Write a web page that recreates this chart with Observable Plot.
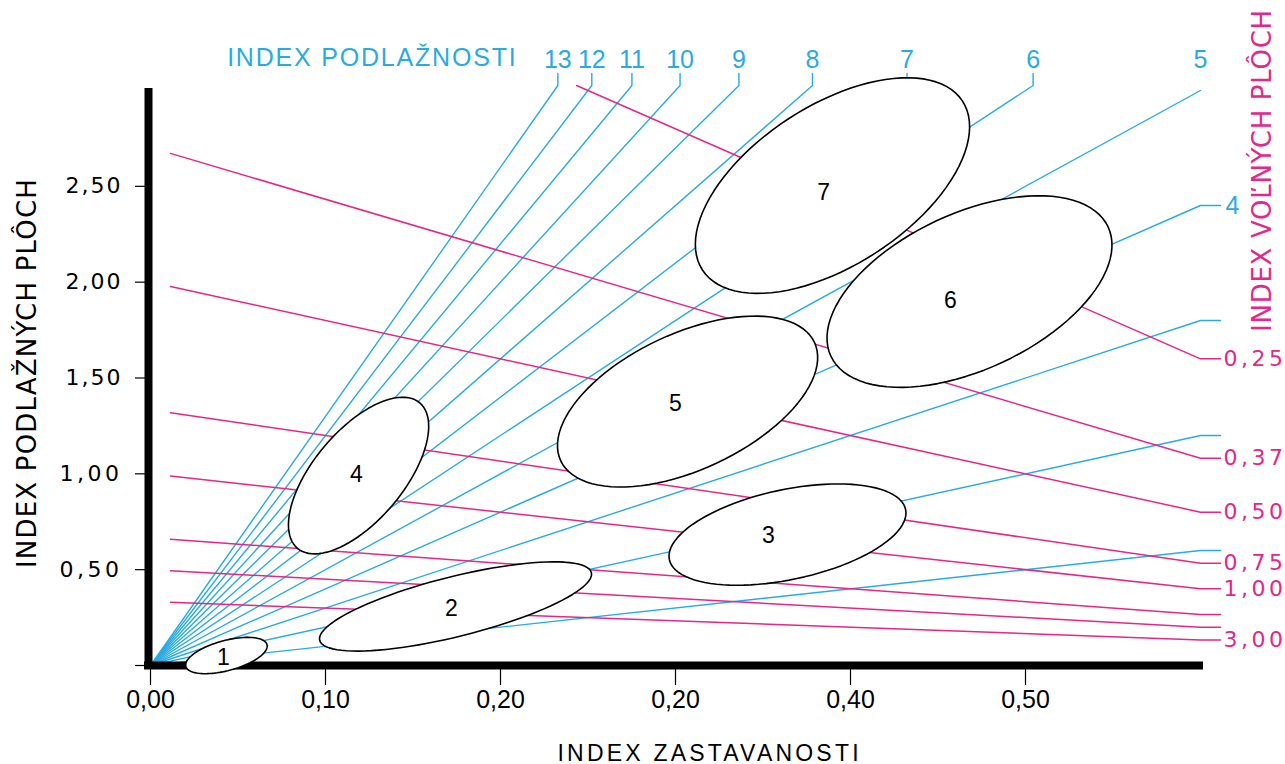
<!DOCTYPE html>
<html><head><meta charset="utf-8">
<script src="https://cdn.jsdelivr.net/npm/d3@7"></script>
<script src="https://cdn.jsdelivr.net/npm/@observablehq/plot@0.6"></script>
<style>body{margin:0;background:#fff}</style>
</head><body><div id="chart"></div>
<script>
// ---- data ----
const xTickValues = [0, 0.1, 0.2, 0.3, 0.4, 0.5];
const xTickLabels = ["0,00", "0,10", "0,20", "0,20", "0,40", "0,50"];
const yTickValues = [0, 0.5, 1, 1.5, 2, 2.5];
const yTickLabels = ["", "0,50", "1,00", "1,50", "2,00", "2,50"];
const podlaznost = [1, 2, 3, 4, 5, 6, 7, 8, 9, 10, 11, 12, 13];
const podlaznostLabels = ["", "", "", "4", "5", "6", "7", "8", "9", "10", "11", "12", "13"];
const volnePlochy = [0.25, 0.37, 0.5, 0.75, 1, 1.5, 2, 3];
const volnePlochyLabels = ["0,25", "0,37", "0,50", "0,75", "1,00", "", "", "3,00"];
const typId = ["1", "2", "3", "4", "5", "6", "7"];
const typGsi = [0.0434, 0.1743, 0.364, 0.1189, 0.3069, 0.468, 0.3897];
const typFsi = [0.052, 0.308, 0.683, 0.991, 1.377, 1.951, 2.504];
const typA = [0.024, 0.080, 0.069, 0.0543, 0.080, 0.0874, 0.0886];
const typB = [0.0086, 0.0171, 0.0257, 0.0257, 0.0389, 0.0446, 0.0457];
const typUhol = [15, 14, 12, 50, 25, 25, 33];
const typLabelGsi = [0.0417, 0.172, 0.3531, 0.1177, 0.30, 0.4571, 0.3846];
const typLabelFsi = [0.042, 0.297, 0.678, 0.9965, 1.367, 1.904, 2.468];

// ---- layout ----
const W = 1285, H = 764, ML = 150, MR = 85, MT = 90, MB = 99;
const X_MAX = 0.6, Y_MAX = 3;
const kx = (W - ML - MR) / X_MAX, ky = (H - MT - MB) / Y_MAX;
const BLUE = "#29abe2", MAGENTA = "#e2288a";
const yTop = Y_MAX + 5 / ky, lead = 12 / ky, tick = 20 / kx, xStart = 20 / kx;

// blue lines (index podlažnosti): y = L * x
const blue = [], blueTop = [], blueRight = [];
podlaznost.forEach((L, i) => {
  const pts = [[0, 0]];
  if (yTop / L < X_MAX) {
    pts.push([yTop / L, yTop], [yTop / L, yTop + lead]);
    blueTop.push({x: yTop / L, y: yTop + lead, t: podlaznostLabels[i]});
  } else if (L * X_MAX >= Y_MAX) {
    pts.push([X_MAX, L * X_MAX]);
    blueTop.push({x: X_MAX, y: yTop + lead, t: podlaznostLabels[i]});
  } else {
    pts.push([X_MAX, L * X_MAX], [X_MAX + tick, L * X_MAX]);
    blueRight.push({x: X_MAX + tick, y: L * X_MAX, t: podlaznostLabels[i]});
  }
  pts.forEach(([x, y]) => blue.push({L, x, y}));
});

// magenta lines (index voľných plôch): y = (1 - x) / OSI
const mag = [], magLab = [];
volnePlochy.forEach((o, i) => {
  const x0 = Math.max(xStart, 1 - yTop * o);
  const yEnd = (1 - X_MAX) / o;
  [[x0, (1 - x0) / o], [X_MAX, yEnd], [X_MAX + tick, yEnd]].forEach(([x, y]) => mag.push({o, x, y}));
  magLab.push({x: X_MAX + tick, y: yEnd, t: volnePlochyLabels[i]});
});

// ellipses
const ell = [];
typId.forEach((id, i) => {
  const th = typUhol[i] * Math.PI / 180;
  for (let k = 0; k < 96; k++) {
    const t = 2 * Math.PI * k / 96;
    const dx = typA[i] * Math.cos(t) * Math.cos(th) - typB[i] * Math.sin(t) * Math.sin(th);
    const dy = typA[i] * Math.cos(t) * Math.sin(th) + typB[i] * Math.sin(t) * Math.cos(th);
    ell.push({id, x: typGsi[i] + dx, y: typFsi[i] + dy * kx / ky});
  }
});
const ellLab = typId.map((id, i) => ({t: id, x: typLabelGsi[i], y: typLabelFsi[i]}));

const TOP_TITLE = "INDEX PODLAŽNOSTI", X_TITLE = "INDEX ZASTAVANOSTI";
const Y_TITLE = "INDEX PODLAŽNÝCH PLÔCH", Y2_TITLE = "INDEX VOĽNÝCH PLÔCH";

const chart = Plot.plot({
  width: W, height: H,
  marginLeft: ML, marginRight: MR, marginTop: MT, marginBottom: MB,
  x: {domain: [0, X_MAX], axis: null},
  y: {domain: [0, Y_MAX], axis: null},
  style: {color: "black", background: "white", overflow: "visible"},
  marks: [
    Plot.line(blue, {x: "x", y: "y", z: "L", stroke: BLUE, strokeWidth: 1.4}),
    Plot.line(mag, {x: "x", y: "y", z: "o", stroke: MAGENTA, strokeWidth: 1.5}),
    Plot.ruleX([0], {y1: -4 / ky, y2: Y_MAX + 2 / ky, dx: -2, stroke: "black", strokeWidth: 8}),
    Plot.ruleY([0], {x1: -6 / kx, x2: X_MAX + 3 / kx, stroke: "black", strokeWidth: 8}),
    Plot.axisX({ticks: xTickValues, tickSize: 20, tickPadding: 5, label: null,
      tickFormat: d => xTickLabels[xTickValues.indexOf(d)],
      fontSize: 25, fontFamily: "Liberation Sans", strokeWidth: 1.2}),
    Plot.axisY({ticks: yTickValues, tickSize: 15, tickPadding: 13, label: null,
      tickFormat: d => yTickLabels[yTickValues.indexOf(d)],
      fontSize: 22, fontFamily: "DejaVu Sans", strokeWidth: 1.2}),
    Plot.line(ell, {x: "x", y: "y", z: "id", fill: "white", stroke: "black", strokeWidth: 1.6, curve: "linear-closed"}),
    Plot.text(ellLab, {x: "x", y: "y", text: "t", fontSize: 23, fontFamily: "Liberation Sans", fill: "black"}),
    Plot.text(blueTop, {x: "x", y: "y", text: "t", dy: -6, lineAnchor: "bottom", fontSize: 25, fontFamily: "Liberation Sans", fill: BLUE}),
    Plot.text(blueRight, {x: "x", y: "y", text: "t", dx: 5, textAnchor: "start", fontSize: 25, fontFamily: "Liberation Sans", fill: BLUE}),
    Plot.text(magLab, {x: "x", y: "y", text: "t", dx: 3, textAnchor: "start", fontSize: 22, fontFamily: "DejaVu Sans", fill: MAGENTA}),
    Plot.text([TOP_TITLE], {frameAnchor: "top-left", dx: 367, dy: -25, textAnchor: "end", lineAnchor: "bottom", fontSize: 25, fontFamily: "Liberation Sans", fill: BLUE}),
    Plot.text([X_TITLE], {frameAnchor: "bottom-left", dx: 407, dy: 88, textAnchor: "start", lineAnchor: "middle", fontSize: 23, fontFamily: "Liberation Sans", fill: "black"}),
    Plot.text([Y_TITLE], {frameAnchor: "left", dx: -123, dy: -5, rotate: -90, textAnchor: "middle", lineAnchor: "middle", fontSize: 26, fontFamily: "DejaVu Sans", fill: "black"}),
    Plot.text([Y2_TITLE], {frameAnchor: "top-right", dx: 62, dy: 80, rotate: -90, textAnchor: "middle", lineAnchor: "middle", fontSize: 26, fontFamily: "DejaVu Sans", fill: MAGENTA})
  ]
});
document.getElementById("chart").append(chart);
// letter spacing by text content (not for x-axis tick labels)
const spacing = new Map([
  [TOP_TITLE, 1.8], [X_TITLE, 3.2], [Y_TITLE, 1.2], [Y2_TITLE, 0.7]
]);
yTickLabels.forEach(t => t && spacing.set(t, 2));
volnePlochyLabels.forEach(t => t && spacing.set(t, 3.5));
chart.querySelectorAll("text").forEach(el => {
  const g = el.closest("g[aria-label]");
  if (g && /x-axis/.test(g.getAttribute("aria-label"))) return;
  const s = spacing.get(el.textContent);
  if (s != null) el.setAttribute("letter-spacing", s);
});
</script>
</body></html>
